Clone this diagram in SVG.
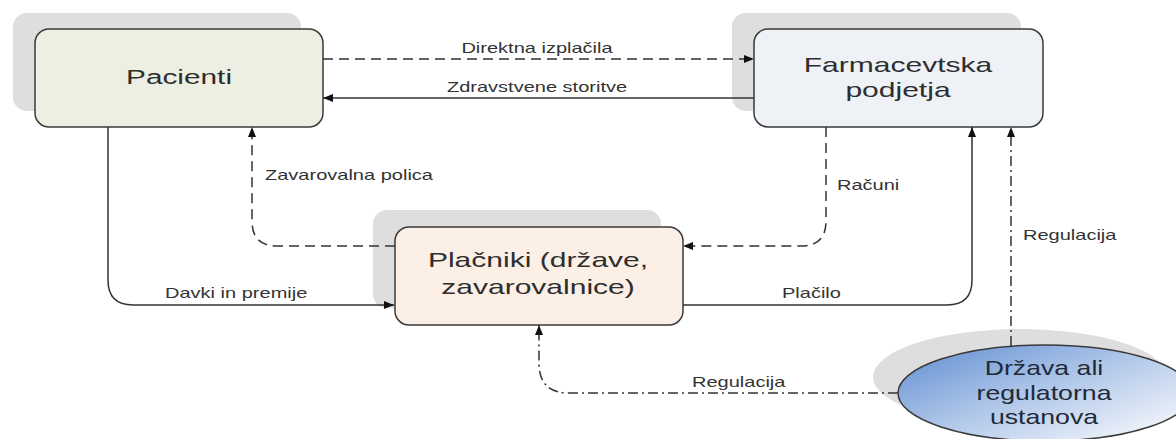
<svg xmlns="http://www.w3.org/2000/svg" width="1176" height="439" viewBox="0 0 1176 439">
<style>
.shadow{fill:#dedede;stroke:none}
.box{stroke:#3a3a3a;stroke-width:1.5}
.ntext{font-family:"Liberation Sans",Arial,sans-serif;font-size:21px;fill:#2e2e2e;text-anchor:middle}
.etext{font-family:"Liberation Sans",Arial,sans-serif;font-size:21px;fill:#1f2a38;text-anchor:middle}
.ltext{font-family:"Liberation Sans",Arial,sans-serif;font-size:14px;fill:#333}
.conn{fill:none;stroke:#333;stroke-width:1.5}
.dash{stroke-dasharray:10,6}
.dashdot{stroke-dasharray:10,4,2,4}
</style>
<defs>
<marker id="arr" viewBox="0 0 10 8" refX="10" refY="4" markerWidth="10" markerHeight="8" markerUnits="userSpaceOnUse" orient="auto">
<path d="M0,0 L10,4 L0,8 z" fill="#111"/>
</marker>
<linearGradient id="eg" x1="0.05" y1="0.1" x2="0.95" y2="0.9">
<stop offset="0" stop-color="#6a95d4"/>
<stop offset="0.45" stop-color="#adc5e8"/>
<stop offset="1" stop-color="#f6f8fc"/>
</linearGradient>
</defs>
<rect width="1176" height="439" fill="#fff"/>
<g id="pacienti">
<rect class="shadow" x="13" y="13" width="288" height="98" rx="14"/>
<rect class="box" x="35" y="29" width="288" height="98" rx="14" fill="#edefe3"/>
<text class="ntext" transform="translate(179,84) scale(1.42,1)">Pacienti</text>
</g>
<g id="farmacevtska">
<rect class="shadow" x="732" y="13" width="289" height="98" rx="14"/>
<rect class="box" x="754" y="29" width="289" height="98" rx="14" fill="#eef1f6"/>
<text class="ntext" transform="translate(898,72) scale(1.43,1)">Farmacevtska</text>
<text class="ntext" transform="translate(898,97) scale(1.43,1)">podjetja</text>
</g>
<g id="placniki">
<rect class="shadow" x="373" y="210" width="288" height="98" rx="14"/>
<rect class="box" x="395" y="227" width="288" height="98" rx="14" fill="#fcefe6"/>
<text class="ntext" transform="translate(538,267) scale(1.43,1)">Plačniki (države,</text>
<text class="ntext" transform="translate(538,294) scale(1.43,1)">zavarovalnice)</text>
</g>
<g id="drzava">
<ellipse class="shadow" cx="1020" cy="377" rx="147" ry="48"/>
<ellipse class="box" cx="1045" cy="393" rx="147" ry="48" fill="url(#eg)"/>
<text class="etext" transform="translate(1044,375) scale(1.27,1)">Država ali</text>
<text class="etext" transform="translate(1044,400) scale(1.27,1)">regulatorna</text>
<text class="etext" transform="translate(1044,424) scale(1.27,1)">ustanova</text>
</g>
<g id="connectors">
<path class="conn dash" d="M323,59 H754" marker-end="url(#arr)"/>
<path class="conn" d="M754,98 H323" marker-end="url(#arr)"/>
<path class="conn" d="M108,127 V280 Q108,305 133,305 H394" marker-end="url(#arr)"/>
<path class="conn dash" d="M395,246 H277 Q252,246 252,221 V127" marker-end="url(#arr)"/>
<path class="conn dash" d="M826,127 V221 Q826,246 801,246 H683" marker-end="url(#arr)"/>
<path class="conn" d="M683,305 H947 Q972,305 972,280 V127" marker-end="url(#arr)"/>
<path class="conn dashdot" d="M1011,346 V127" marker-end="url(#arr)"/>
<path class="conn dashdot" d="M898,393 H569 Q539,393 539,363 V325" marker-end="url(#arr)"/>
<text class="ltext" text-anchor="middle" transform="translate(537,53) scale(1.43,1)">Direktna izplačila</text>
<text class="ltext" text-anchor="middle" transform="translate(537,92) scale(1.43,1)">Zdravstvene storitve</text>
<text class="ltext" transform="translate(265,180) scale(1.43,1)">Zavarovalna polica</text>
<text class="ltext" transform="translate(165,298) scale(1.43,1)">Davki in premije</text>
<text class="ltext" transform="translate(837,190) scale(1.43,1)">Računi</text>
<text class="ltext" transform="translate(782,298) scale(1.43,1)">Plačilo</text>
<text class="ltext" transform="translate(1023,240) scale(1.43,1)">Regulacija</text>
<text class="ltext" transform="translate(692,387) scale(1.43,1)">Regulacija</text>
</g>
</svg>
